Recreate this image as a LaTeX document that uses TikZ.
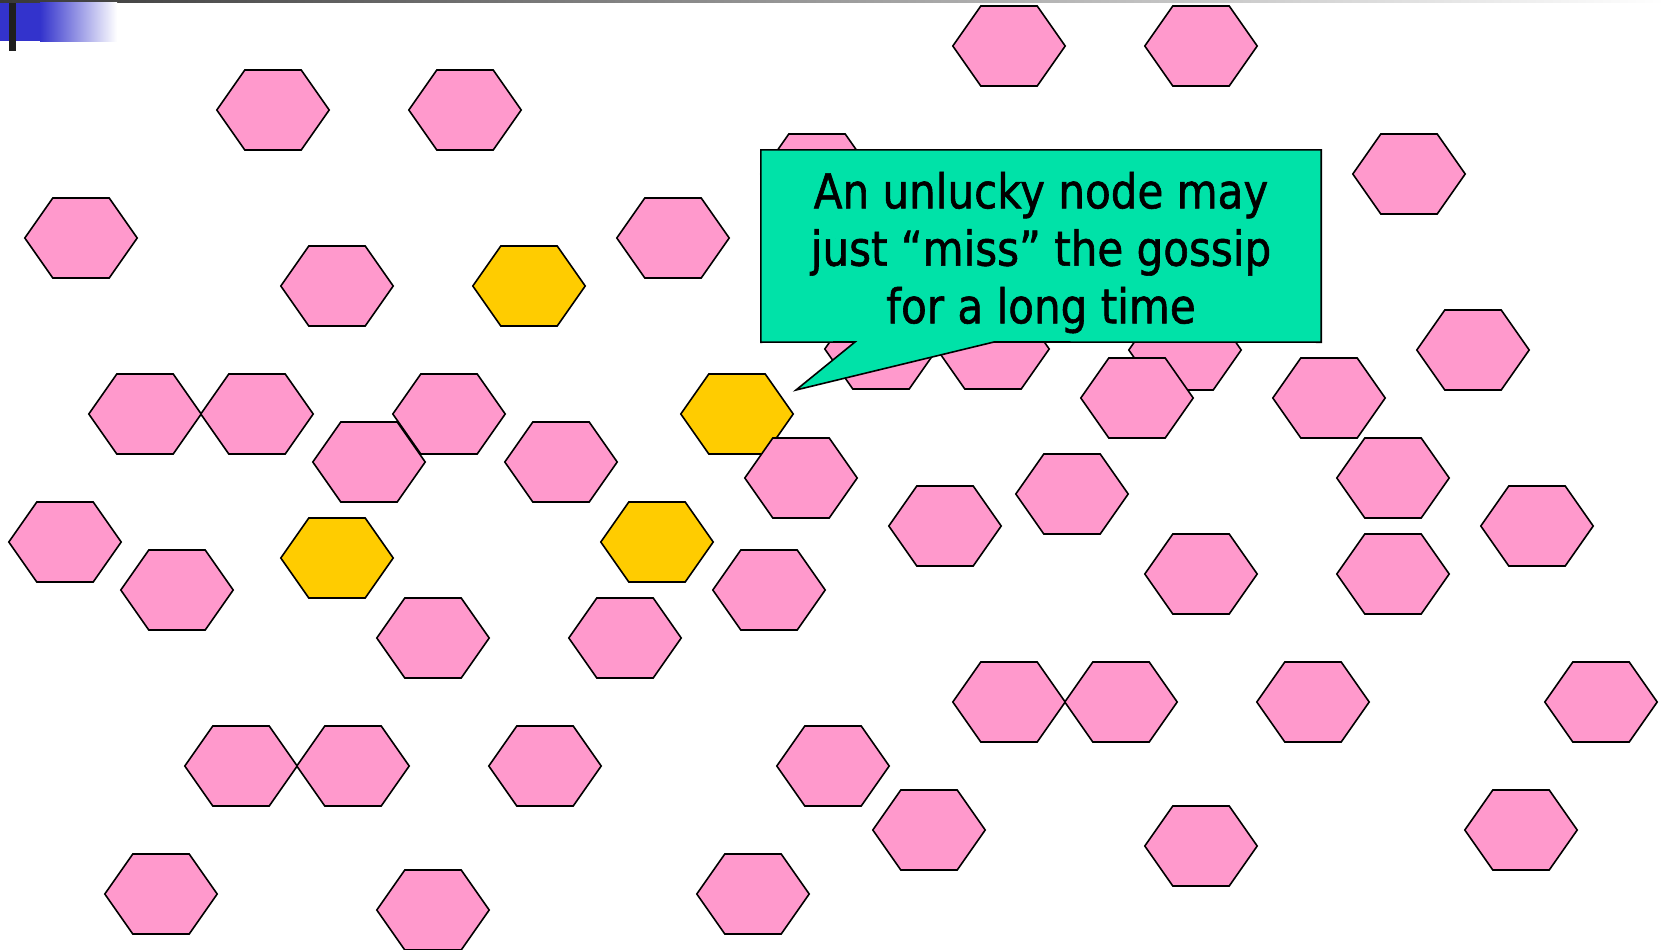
\documentclass[tikz,border=0pt]{standalone}
\usepackage{fontspec}
\newfontfamily\calloutfont[FakeStretch=0.876,FakeBold=1.2]{DejaVu Sans}
\definecolor{hexpink}{RGB}{255,153,204}
\definecolor{hexgold}{RGB}{255,204,0}
\definecolor{callgreen}{RGB}{0,226,168}
\definecolor{barblue}{RGB}{51,51,204}
\tikzset{
  hexline/.style={draw=black, line width=1.6pt, line join=miter},
  pics/hexa/.style={code={
    \path[hexline, fill=#1] (-56.2,0) -- (-28.2,-40) -- (28.2,-40) -- (56.2,0) -- (28.2,40) -- (-28.2,40) -- cycle;
  }},
  calloutshape/.style={draw=black, line width=1.6pt, fill=callgreen, line join=miter},
  callouttext/.style={anchor=base, inner sep=0pt, font=\calloutfont\fontsize{48}{57.5}\selectfont},
}
\begin{document}
\begin{tikzpicture}[x=1pt, y=-1pt]
\useasboundingbox (0,0) rectangle (1665,950);
\fill[white] (0,0) rectangle (1665,950);
% title bar decoration
\shade[left color=black!78, right color=white] (0,0) rectangle (1665,2.7);
\fill[barblue] (0,2.7) rectangle (40.5,40.7);
\shade[left color=barblue, right color=white] (40,2.7) rectangle (117,41.7);
\fill[black!88] (9,2.7) rectangle (16,50.7);
% hexagons (drawn top to bottom)
\pic at (1009,46) {hexa=hexpink};
\pic at (1201,46) {hexa=hexpink};
\pic at (273,110) {hexa=hexpink};
\pic at (465,110) {hexa=hexpink};
\pic at (817,174) {hexa=hexpink};
\pic at (1409,174) {hexa=hexpink};
\pic at (81,238) {hexa=hexpink};
\pic at (673,238) {hexa=hexpink};
\pic at (337,286) {hexa=hexpink};
\pic at (529,286) {hexa=hexgold};
\pic at (881,349) {hexa=hexpink};
\pic at (993,349) {hexa=hexpink};
\pic at (1185,350) {hexa=hexpink};
\pic at (1473,350) {hexa=hexpink};
\pic at (1137,398) {hexa=hexpink};
\pic at (1329,398) {hexa=hexpink};
\pic at (145,414) {hexa=hexpink};
\pic at (257,414) {hexa=hexpink};
\pic at (449,414) {hexa=hexpink};
\pic at (737,414) {hexa=hexgold};
\pic at (369,462) {hexa=hexpink};
\pic at (561,462) {hexa=hexpink};
\pic at (801,478) {hexa=hexpink};
\pic at (1393,478) {hexa=hexpink};
\pic at (1072,494) {hexa=hexpink};
\pic at (945,526) {hexa=hexpink};
\pic at (1537,526) {hexa=hexpink};
\pic at (65,542) {hexa=hexpink};
\pic at (657,542) {hexa=hexgold};
\pic at (337,558) {hexa=hexgold};
\pic at (1201,574) {hexa=hexpink};
\pic at (1393,574) {hexa=hexpink};
\pic at (177,590) {hexa=hexpink};
\pic at (769,590) {hexa=hexpink};
\pic at (433,638) {hexa=hexpink};
\pic at (625,638) {hexa=hexpink};
\pic at (1009,702) {hexa=hexpink};
\pic at (1121,702) {hexa=hexpink};
\pic at (1313,702) {hexa=hexpink};
\pic at (1601,702) {hexa=hexpink};
\pic at (241,766) {hexa=hexpink};
\pic at (353,766) {hexa=hexpink};
\pic at (545,766) {hexa=hexpink};
\pic at (833,766) {hexa=hexpink};
\pic at (929,830) {hexa=hexpink};
\pic at (1521,830) {hexa=hexpink};
\pic at (1201,846) {hexa=hexpink};
\pic at (161,894) {hexa=hexpink};
\pic at (753,894) {hexa=hexpink};
\pic at (433,910) {hexa=hexpink};
% callout
\node[name=callbox, minimum width=560pt, minimum height=192pt, inner sep=0pt] at (1041,246) {};
\coordinate (tip) at (796,390);
\coordinate (pl) at (855,342);
\coordinate (pr) at (994,342);
\path[calloutshape] (callbox.north west) -- (callbox.north east) -- (callbox.south east)
  -- (pr) -- (tip) -- (pl) -- (callbox.south west) -- cycle;
\node[callouttext, name=line1] at (1041,208.3) {An unlucky node may};
\node[callouttext, name=line2] at (1041,265.7) {just “miss” the gossip};
\node[callouttext, name=line3] at (1041,323.3) {for a long time};
\end{tikzpicture}
\end{document}
